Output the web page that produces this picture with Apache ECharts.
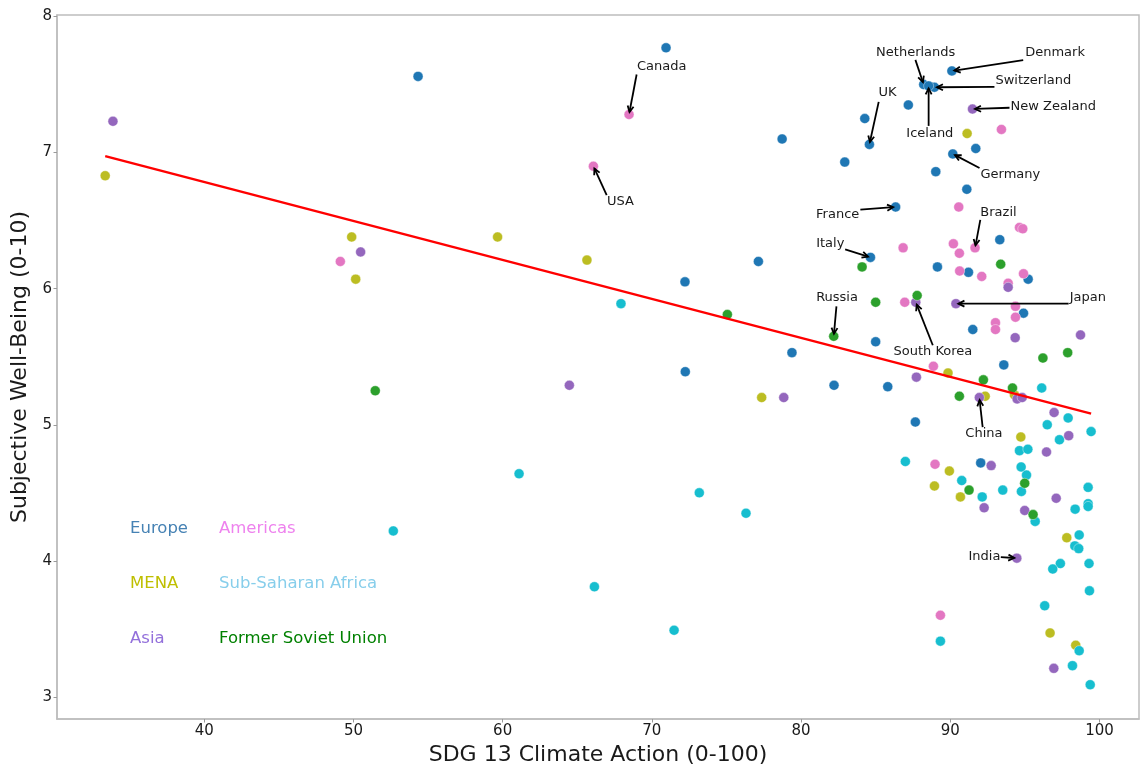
<!DOCTYPE html>
<html>
<head>
<meta charset="utf-8">
<script src="https://cdn.jsdelivr.net/npm/echarts@6/dist/echarts.min.js"></script>
<style>html,body{margin:0;padding:0;background:#fff;}#chart{width:1141px;height:764px;}</style>
</head>
<body>
<div id="chart"></div>
<script>
// ---- Data (SDG 13 score, well-being) ----
const xTicks = [40, 50, 60, 70, 80, 90, 100];
const yTicks = [3, 4, 5, 6, 7, 8];

const europeX = [88.22, 88.94, 90.11, 88.55, 84.58, 90.17, 86.34, 84.65, 54.33, 70.95, 78.73, 77.14, 72.22, 79.39, 72.24, 82.21, 82.93, 84.27, 85.00, 85.81, 87.19, 87.66, 91.71, 89.03, 91.11, 93.32, 89.14, 91.22, 95.22, 94.91, 91.51, 93.59, 92.04];
const europeY = [7.50, 7.48, 7.60, 7.49, 7.06, 6.99, 6.60, 6.23, 7.56, 7.77, 7.10, 6.20, 6.05, 5.53, 5.39, 5.29, 6.93, 7.25, 5.61, 5.28, 7.35, 5.02, 7.03, 6.86, 6.73, 6.36, 6.16, 6.12, 6.07, 5.82, 5.70, 5.44, 4.72];

const americasX = [66.08, 68.47, 91.66, 49.12, 86.84, 86.95, 93.43, 90.57, 94.64, 94.86, 90.21, 90.61, 90.63, 92.11, 94.91, 93.88, 94.37, 94.37, 93.03, 93.03, 88.87, 88.98, 89.34];
const americasY = [6.90, 7.28, 6.30, 6.20, 6.30, 5.90, 7.17, 6.60, 6.45, 6.44, 6.33, 6.26, 6.13, 6.09, 6.11, 6.04, 5.87, 5.79, 5.75, 5.70, 5.43, 4.71, 3.60];

const menaX = [33.36, 49.88, 50.15, 59.66, 65.65, 77.36, 91.13, 89.85, 92.34, 94.30, 94.73, 89.94, 88.94, 90.68, 97.81, 96.69, 98.41];
const menaY = [6.83, 6.38, 6.07, 6.38, 6.21, 5.20, 7.14, 5.38, 5.21, 5.22, 4.91, 4.66, 4.55, 4.47, 4.17, 3.47, 3.38];

const ssaX = [52.67, 61.10, 66.15, 67.93, 71.49, 73.18, 76.31, 86.99, 96.13, 97.90, 96.50, 99.44, 97.32, 94.64, 95.20, 94.75, 95.11, 90.77, 94.77, 93.52, 92.14, 99.24, 99.24, 99.24, 98.37, 95.69, 98.64, 98.35, 98.61, 97.38, 96.87, 99.30, 99.33, 96.33, 89.34, 98.64, 98.19, 99.38];
const ssaY = [4.22, 4.64, 3.81, 5.89, 3.49, 4.50, 4.35, 4.73, 5.27, 5.05, 5.00, 4.95, 4.89, 4.81, 4.82, 4.69, 4.63, 4.59, 4.51, 4.52, 4.47, 4.54, 4.42, 4.40, 4.38, 4.29, 4.19, 4.11, 4.09, 3.98, 3.94, 3.98, 3.78, 3.67, 3.41, 3.34, 3.23, 3.09];

const asiaX = [91.49, 87.69, 90.38, 91.95, 94.46, 33.88, 50.48, 64.47, 78.84, 93.88, 94.35, 98.73, 87.73, 94.48, 94.82, 96.96, 97.94, 96.45, 92.74, 97.10, 92.27, 94.99, 96.94];
const asiaY = [7.32, 5.90, 5.89, 5.20, 4.02, 7.23, 6.27, 5.29, 5.20, 6.01, 5.64, 5.66, 5.35, 5.19, 5.20, 5.09, 4.92, 4.80, 4.70, 4.46, 4.39, 4.37, 3.21];

const fsuX = [82.19, 51.46, 75.06, 84.09, 85.00, 87.78, 93.38, 96.21, 97.87, 92.22, 94.17, 90.61, 91.26, 94.99, 95.55];
const fsuY = [5.65, 5.25, 5.81, 6.16, 5.90, 5.95, 6.18, 5.49, 5.53, 5.33, 5.27, 5.21, 4.52, 4.57, 4.34];

// Fitted trend line end points
const trendX = [33.36, 99.44];
const trendY = [6.974, 5.082];

// Labeled countries: [name, region key, index in that region's arrays]
const labeled = [
  ['Netherlands', 'europe', 0], ['Switzerland', 'europe', 1], ['Denmark', 'europe', 2],
  ['Iceland', 'europe', 3], ['UK', 'europe', 4], ['Germany', 'europe', 5],
  ['France', 'europe', 6], ['Italy', 'europe', 7],
  ['USA', 'americas', 0], ['Canada', 'americas', 1], ['Brazil', 'americas', 2],
  ['New Zealand', 'asia', 0], ['South Korea', 'asia', 1], ['Japan', 'asia', 2],
  ['China', 'asia', 3], ['India', 'asia', 4],
  ['Russia', 'fsu', 0]
];

// ---- Styles ----
const regions = {
  europe:   { name: 'Europe', xs: europeX, ys: europeY, color: '#1f77b4', text: '#4682b4' },
  americas: { name: 'Americas', xs: americasX, ys: americasY, color: '#e377c2', text: '#ee82ee' },
  mena:     { name: 'MENA', xs: menaX, ys: menaY, color: '#bcbd22', text: '#bfbf00' },
  ssa:      { name: 'Sub-Saharan Africa', xs: ssaX, ys: ssaY, color: '#17becf', text: '#87ceeb' },
  asia:     { name: 'Asia', xs: asiaX, ys: asiaY, color: '#9467bd', text: '#9370db' },
  fsu:      { name: 'Former Soviet Union', xs: fsuX, ys: fsuY, color: '#2ca02c', text: '#008000' }
};
// pixel offsets of label text (dx,dy: left/middle of text) and arrow start (ax,ay), relative to point
const labelOffsets = {
  'Canada': [8, -48, 7.6, -40],
  'USA': [13.7, 35.7, 13.3, 29],
  'Netherlands': [-47.6, -32.4, -8.3, -24.7],
  'Denmark': [73.3, -18, 71.3, -10.7],
  'Switzerland': [61, -6.6, 60, -0.3],
  'Iceland': [-22.3, 47.3, 0, 40],
  'UK': [9, -51.3, 9.3, -42.6],
  'New Zealand': [38, -2.7, 37, -1.3],
  'Germany': [27.7, 20.6, 26.7, 14],
  'France': [-79.6, 7.7, -35.3, 2.7],
  'Brazil': [5.3, -35.7, 5.3, -28],
  'Italy': [-54.3, -14, -25.3, -8],
  'Russia': [-17.6, -39, 2.7, -30],
  'Japan': [113.7, -5.7, 112.7, 0],
  'South Korea': [-22.3, 49.6, 17, 43],
  'China': [-14, 35.6, 3.3, 29.6],
  'India': [-48.3, -2, -16, -1]
};

const FONT = 'DejaVu Sans';

const scatterSeries = ['europe', 'americas', 'mena', 'ssa', 'asia', 'fsu'].map(k => {
  const r = regions[k];
  return {
    name: r.name,
    type: 'scatter',
    symbolSize: 10,
    itemStyle: { color: r.color, opacity: 1, borderColor: '#ffffff', borderWidth: 0.4 },
    data: r.xs.map((x, i) => [x, r.ys[i]]),
    z: 2
  };
});

const annData = labeled.map(([name, key, idx]) => ({
  name: name,
  value: [regions[key].xs[idx], regions[key].ys[idx]]
}));

function renderAnnotation(params, api) {
  const item = annData[params.dataIndex];
  const p = api.coord([api.value(0), api.value(1)]);
  const off = labelOffsets[item.name];
  const sx = p[0] + off[2], sy = p[1] + off[3];
  const dxv = p[0] - sx, dyv = p[1] - sy;
  const len = Math.sqrt(dxv * dxv + dyv * dyv);
  const ux = dxv / len, uy = dyv / len;
  const tipX = p[0] - ux * 2.5, tipY = p[1] - uy * 2.5;
  const hl = 6, hw = 3;
  const bx = tipX - ux * hl, by = tipY - uy * hl;
  const h1 = [bx - uy * hw, by + ux * hw];
  const h2 = [bx + uy * hw, by - ux * hw];
  return {
    type: 'group',
    children: [
      { type: 'line', shape: { x1: sx, y1: sy, x2: tipX, y2: tipY }, style: { stroke: '#000', lineWidth: 1.8 } },
      { type: 'polyline', shape: { points: [h1, [tipX, tipY], h2] }, style: { stroke: '#000', lineWidth: 1.8, fill: null } },
      { type: 'text', style: { text: item.name, x: p[0] + off[0], y: p[1] + off[1], align: 'left', verticalAlign: 'middle', font: '13px "DejaVu Sans"', fill: '#1a1a1a' } }
    ]
  };
}

const legendText = n => Object.values(regions).find(r => r.name === n).text;

const chart = echarts.init(document.getElementById('chart'), null, { renderer: 'canvas' });
chart.setOption({
  animation: false,
  backgroundColor: '#ffffff',
  textStyle: { fontFamily: FONT },
  grid: { left: 57, right: 2, top: 15, bottom: 45, show: true, borderColor: '#bdbdbd', borderWidth: 1.5, containLabel: false, outerBoundsMode: 'none' },
  legend: [
    {
      data: ['Europe', 'MENA', 'Asia'].map(n => ({ name: n, textStyle: { color: legendText(n) } })),
      orient: 'vertical', left: 119, top: 515, itemWidth: 0, itemHeight: 18, itemGap: 38,
      itemStyle: { opacity: 0 }, textStyle: { fontSize: 16.5, fontFamily: FONT }, selectedMode: false
    },
    {
      data: ['Americas', 'Sub-Saharan Africa', 'Former Soviet Union'].map(n => ({ name: n, textStyle: { color: legendText(n) } })),
      orient: 'vertical', left: 208, top: 515, itemWidth: 0, itemHeight: 18, itemGap: 38,
      itemStyle: { opacity: 0 }, textStyle: { fontSize: 16.5, fontFamily: FONT }, selectedMode: false
    }
  ],
  xAxis: {
    type: 'value', min: 30.13, max: 102.65,
    name: 'SDG 13 Climate Action (0-100)', nameLocation: 'middle', nameGap: 23,
    nameTextStyle: { fontSize: 22, color: '#1a1a1a', fontFamily: FONT },
    axisLine: { show: true, lineStyle: { color: '#bdbdbd', width: 1.5 } },
    axisTick: { show: true, length: 3.5, customValues: xTicks, lineStyle: { color: '#9a9a9a' } },
    axisLabel: { customValues: xTicks, fontSize: 15, color: '#1a1a1a', margin: 5, fontFamily: FONT },
    splitLine: { show: false }
  },
  yAxis: {
    type: 'value', min: 2.838, max: 8.011,
    name: 'Subjective Well-Being (0-10)', nameLocation: 'middle', nameGap: 18, nameRotate: 90,
    nameTextStyle: { fontSize: 22, color: '#1a1a1a', fontFamily: FONT },
    axisLine: { show: true, lineStyle: { color: '#bdbdbd', width: 1.5 } },
    axisTick: { show: true, length: 3.5, customValues: yTicks, lineStyle: { color: '#9a9a9a' } },
    axisLabel: { customValues: yTicks, fontSize: 15, color: '#1a1a1a', margin: 5, fontFamily: FONT },
    splitLine: { show: false }
  },
  series: scatterSeries.concat([
    {
      name: 'Trend', type: 'line', symbol: 'none',
      data: trendX.map((x, i) => [x, trendY[i]]),
      lineStyle: { color: '#ff0000', width: 2.5 }, z: 3, silent: true
    },
    {
      name: 'Labels', type: 'custom', coordinateSystem: 'cartesian2d',
      data: annData, renderItem: renderAnnotation, z: 4, silent: true, clip: false
    }
  ])
});
</script>
</body>
</html>
